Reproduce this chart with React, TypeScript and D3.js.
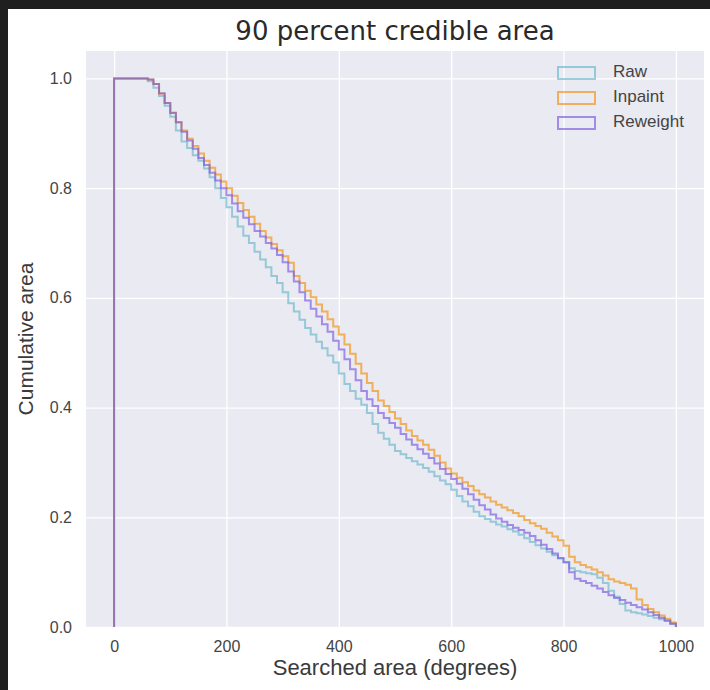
import React, { useEffect, useRef } from "react";
import * as d3 from "d3";

// cumulative (reverse) histogram, bins of 10 deg^2 from 0 to 1000
const binWidth = 10;

const rawValues = [
  1.0, 1.0, 1.0, 1.0, 1.0, 1.0, 0.995, 0.983, 0.968, 0.95,
  0.93, 0.905, 0.885, 0.873, 0.86, 0.85, 0.836, 0.82, 0.8, 0.782,
  0.765, 0.748, 0.73, 0.713, 0.7, 0.684, 0.67, 0.656, 0.64, 0.627,
  0.61, 0.59, 0.575, 0.56, 0.545, 0.533, 0.52, 0.508, 0.495, 0.482,
  0.462, 0.443, 0.43, 0.416, 0.405, 0.39, 0.37, 0.354, 0.343, 0.332,
  0.321, 0.315, 0.308, 0.302, 0.296, 0.29, 0.283, 0.275, 0.267, 0.26,
  0.25, 0.239, 0.229, 0.22, 0.21, 0.202, 0.197, 0.192, 0.187, 0.183,
  0.178, 0.174, 0.168, 0.162, 0.155, 0.149, 0.143, 0.137, 0.131, 0.125,
  0.118, 0.107, 0.102, 0.1, 0.098, 0.096, 0.09, 0.08, 0.066, 0.055,
  0.042, 0.03, 0.027, 0.025, 0.023, 0.02, 0.017, 0.014, 0.011, 0.006,
];

const inpaintValues = [
  1.0, 1.0, 1.0, 1.0, 1.0, 1.0, 0.998, 0.99, 0.972, 0.955,
  0.938, 0.92, 0.905, 0.89, 0.877, 0.863, 0.85, 0.837, 0.825, 0.812,
  0.8, 0.786, 0.773, 0.76, 0.748, 0.735, 0.722, 0.71, 0.698, 0.687,
  0.676, 0.664, 0.64, 0.627, 0.613, 0.601, 0.588, 0.575, 0.561, 0.548,
  0.533, 0.515, 0.498, 0.48, 0.462, 0.445, 0.43, 0.413, 0.403, 0.392,
  0.38, 0.37, 0.358, 0.348, 0.34, 0.332, 0.323, 0.312, 0.3, 0.289,
  0.28, 0.272, 0.264, 0.257, 0.249, 0.242, 0.236, 0.229, 0.223, 0.218,
  0.213, 0.208, 0.202, 0.195, 0.189, 0.184, 0.179, 0.172, 0.165, 0.158,
  0.148, 0.128, 0.118, 0.113, 0.109, 0.105, 0.1, 0.094, 0.087, 0.083,
  0.08, 0.077, 0.07, 0.05, 0.04, 0.033, 0.027, 0.021, 0.015, 0.008,
];

const reweightValues = [
  1.0, 1.0, 1.0, 1.0, 1.0, 1.0, 0.998, 0.99, 0.973, 0.955,
  0.937, 0.92, 0.903, 0.887, 0.872, 0.855, 0.842, 0.828, 0.814, 0.8,
  0.787, 0.772, 0.758, 0.746, 0.734, 0.722, 0.712, 0.7, 0.69, 0.678,
  0.665, 0.648, 0.63, 0.61, 0.595, 0.58, 0.566, 0.552, 0.538, 0.522,
  0.506, 0.488, 0.47, 0.45, 0.43, 0.415, 0.403, 0.39, 0.381, 0.372,
  0.363, 0.352, 0.342, 0.332, 0.324, 0.316, 0.308, 0.298, 0.288, 0.279,
  0.27, 0.261, 0.252, 0.242, 0.232, 0.222, 0.214, 0.205, 0.198, 0.192,
  0.186, 0.181, 0.177, 0.172, 0.166, 0.158, 0.15, 0.142, 0.134, 0.126,
  0.118, 0.1, 0.088, 0.084, 0.08, 0.075, 0.07, 0.064, 0.058, 0.053,
  0.049, 0.044, 0.04, 0.036, 0.032, 0.027, 0.022, 0.017, 0.012, 0.006,
];

const seriesNames = ["Raw", "Inpaint", "Reweight"];
const seriesColors = ["#69b6c8", "#f38f08", "#7859e0"];
const xTicks = [0, 200, 400, 600, 800, 1000];
const yTicks = [0, 0.2, 0.4, 0.6, 0.8, 1.0];

export default function App() {
  const ref = useRef<SVGSVGElement>(null);

  useEffect(() => {
    drawChart();
  }, []);

  function drawChart() {
    const svg = d3.select(ref.current);
    svg.selectAll("*").remove();

    const left = 86, right = 704, top = 51, bottom = 627;
    const font = "'Liberation Sans', Arial, sans-serif";
    const alpha = 0.65;

    // dark frame + white figure
    svg.append("rect").attr("width", 710).attr("height", 690).attr("fill", "#1f1f1f");
    svg.append("rect").attr("x", 8).attr("y", 9).attr("width", 702).attr("height", 681).attr("fill", "#ffffff");

    const x = d3.scaleLinear().domain([-50, 1050]).range([left, right]);
    const y = d3.scaleLinear().domain([0, 1.05]).range([bottom, top]);

    svg.append("rect")
      .attr("x", left).attr("y", top)
      .attr("width", right - left).attr("height", bottom - top)
      .attr("fill", "#eaeaf2");

    const xAxis = svg.append("g")
      .attr("transform", `translate(0,${bottom})`)
      .call(d3.axisBottom(x).tickValues(xTicks).tickSize(-(bottom - top)).tickPadding(14).tickFormat(d3.format("d")));
    const yAxis = svg.append("g")
      .attr("transform", `translate(${left},0)`)
      .call(d3.axisLeft(y).tickValues(yTicks).tickSize(-(right - left)).tickPadding(14).tickFormat(d3.format(".1f")));

    [xAxis, yAxis].forEach((g) => {
      g.select(".domain").remove();
      g.selectAll(".tick line").attr("stroke", "#ffffff").attr("stroke-width", 1.3);
      g.selectAll(".tick text").attr("fill", "#444444").style("font-family", font).style("font-size", "16px");
    });

    const line = d3.line<[number, number]>()
      .x((d) => x(d[0]))
      .y((d) => y(d[1]))
      .curve(d3.curveStepAfter);

    const allSeries = [rawValues, inpaintValues, reweightValues];
    allSeries.forEach((vals, i) => {
      const pts: [number, number][] = [[0, 0]];
      vals.forEach((v, j) => pts.push([j * binWidth, v]));
      pts.push([vals.length * binWidth, 0]);
      svg.append("path")
        .datum(pts)
        .attr("fill", "none")
        .attr("stroke", seriesColors[i])
        .attr("stroke-opacity", alpha)
        .attr("stroke-width", 2)
        .attr("d", line);
    });

    // legend
    const legend = svg.append("g");
    seriesNames.forEach((name, i) => {
      const ly = 67 + i * 25;
      legend.append("rect")
        .attr("x", 558).attr("y", ly)
        .attr("width", 37).attr("height", 12)
        .attr("fill", "none")
        .attr("stroke", seriesColors[i])
        .attr("stroke-opacity", alpha)
        .attr("stroke-width", 2);
      legend.append("text")
        .attr("x", 613).attr("y", ly + 6)
        .attr("dominant-baseline", "middle")
        .attr("fill", "#444444")
        .style("font-family", font)
        .style("font-size", "17px")
        .text(name);
    });

    svg.append("text")
      .attr("x", (left + right) / 2).attr("y", 669)
      .attr("text-anchor", "middle").attr("dominant-baseline", "middle")
      .attr("fill", "#3a3a3a")
      .style("font-family", font).style("font-size", "22px")
      .text("Searched area (degrees)");

    svg.append("text")
      .attr("transform", `translate(27,${(top + bottom) / 2}) rotate(-90)`)
      .attr("text-anchor", "middle").attr("dominant-baseline", "middle")
      .attr("fill", "#3a3a3a")
      .style("font-family", font).style("font-size", "21px")
      .text("Cumulative area");

    svg.append("text")
      .attr("x", (left + right) / 2).attr("y", 32)
      .attr("text-anchor", "middle").attr("dominant-baseline", "middle")
      .attr("fill", "#2a2a2a")
      .style("font-family", "'DejaVu Sans', sans-serif").style("font-size", "26px")
      .text("90 percent credible area");
  }

  return <svg ref={ref} width={710} height={690} style={{ position: "absolute", left: 0, top: 0 }} />;
}
